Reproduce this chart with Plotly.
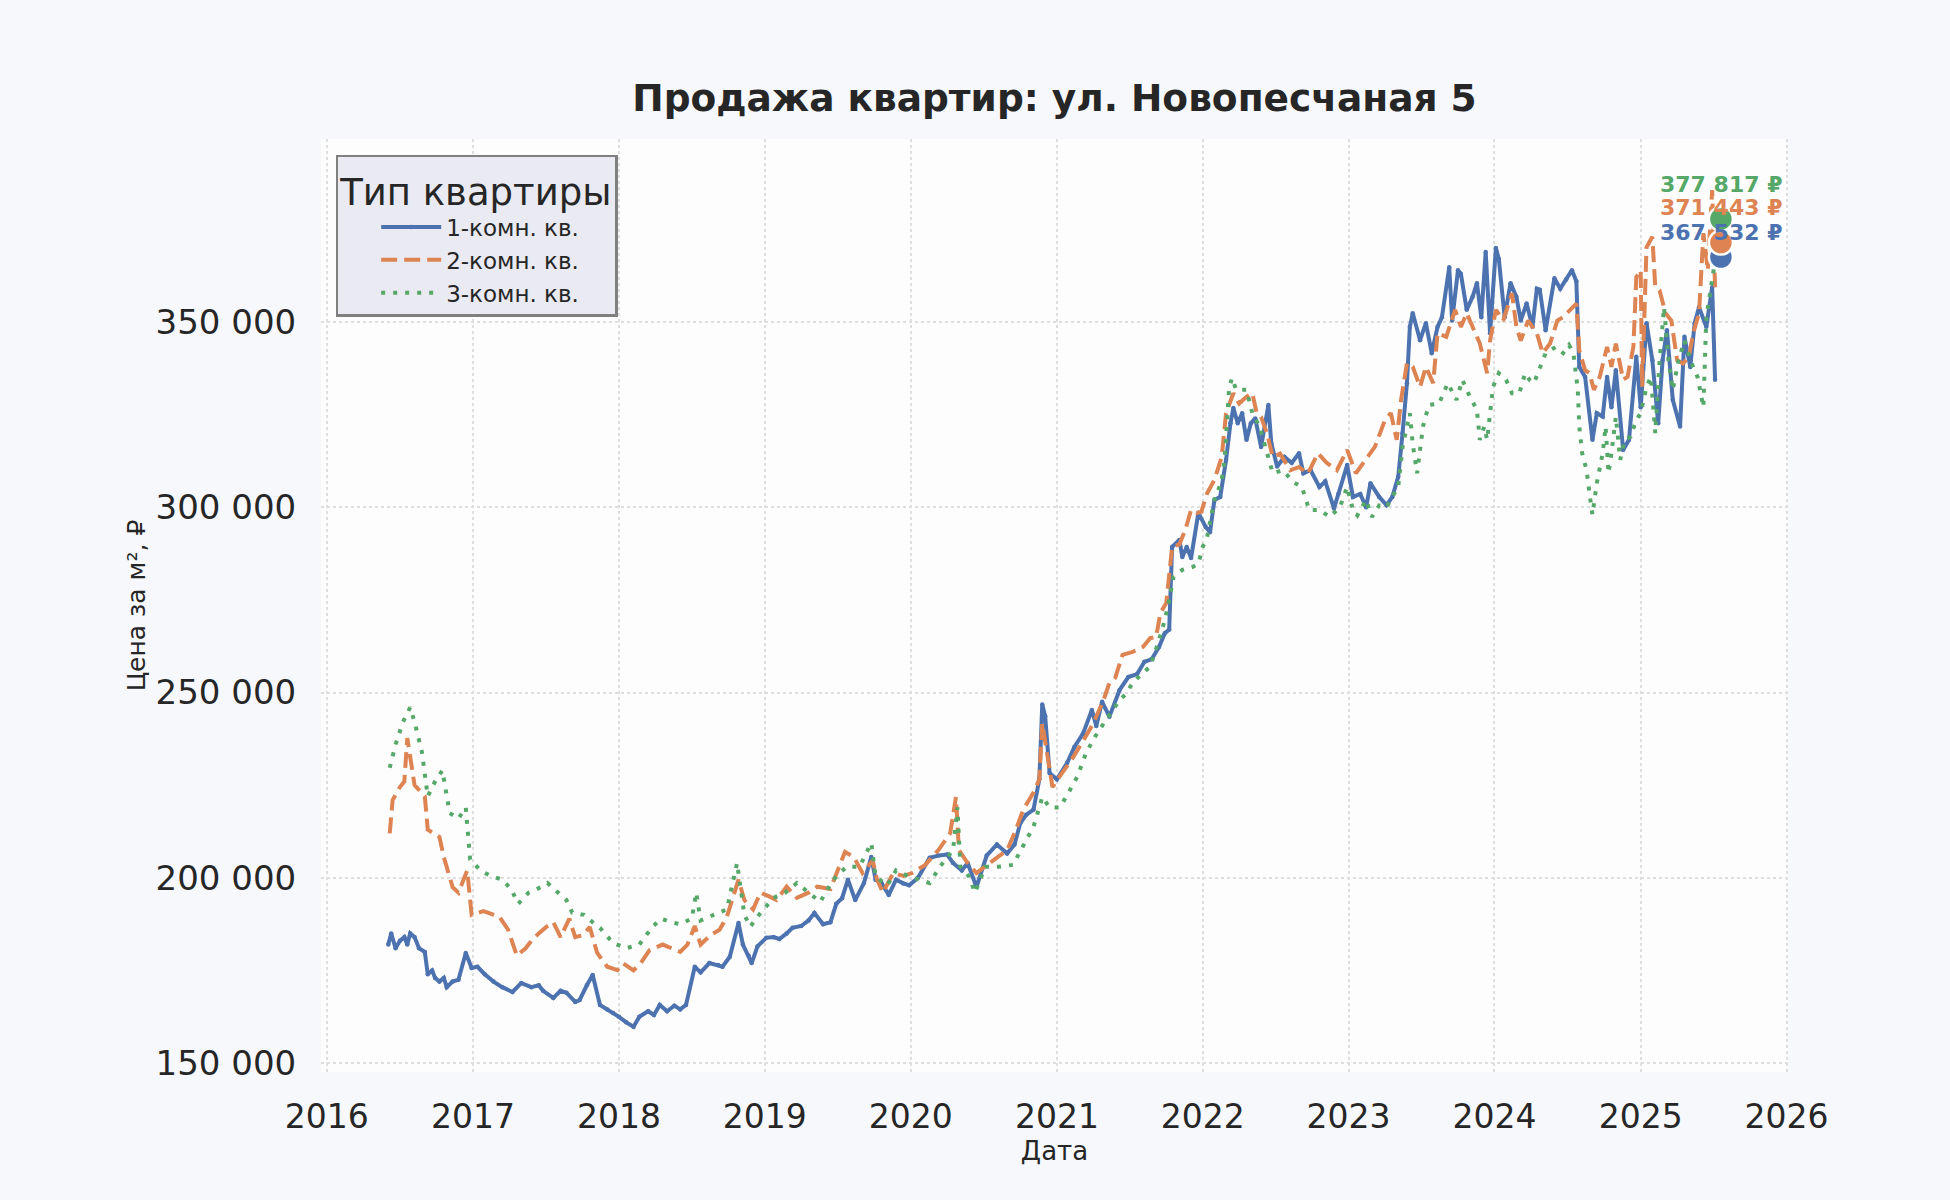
import pandas as pd
import plotly.graph_objects as go

# ---- data (decimal year, price in thousands of RUB per m²) ----
t1 = [2016.42, 2016.44, 2016.47, 2016.50, 2016.53, 2016.55, 2016.57, 2016.60, 2016.63, 2016.67,
      2016.69, 2016.72, 2016.74, 2016.77, 2016.80, 2016.82, 2016.86, 2016.90, 2016.95, 2016.99,
      2017.03, 2017.08, 2017.14, 2017.20, 2017.27, 2017.33, 2017.40, 2017.45, 2017.48, 2017.55,
      2017.60, 2017.64, 2017.70, 2017.73, 2017.78, 2017.82, 2017.87, 2017.92, 2017.96, 2018.00,
      2018.05, 2018.10, 2018.14, 2018.20, 2018.24, 2018.28, 2018.33, 2018.38, 2018.42, 2018.46,
      2018.52, 2018.56, 2018.62, 2018.68, 2018.71, 2018.76, 2018.82, 2018.85, 2018.89, 2018.91,
      2018.95, 2019.01, 2019.06, 2019.10, 2019.15, 2019.19, 2019.25, 2019.30, 2019.34, 2019.40,
      2019.45, 2019.49, 2019.53, 2019.57, 2019.62, 2019.68, 2019.73, 2019.76, 2019.80, 2019.85,
      2019.90, 2019.95, 2019.99, 2020.05, 2020.13, 2020.19, 2020.25, 2020.29, 2020.35, 2020.39,
      2020.45, 2020.52, 2020.59, 2020.66, 2020.71, 2020.75, 2020.79, 2020.84, 2020.88, 2020.90,
      2020.92, 2020.95, 2021.00, 2021.07, 2021.12, 2021.18, 2021.24, 2021.27, 2021.31, 2021.36,
      2021.43, 2021.49, 2021.55, 2021.60, 2021.65, 2021.70, 2021.74, 2021.77, 2021.79, 2021.84,
      2021.86, 2021.89, 2021.92, 2021.97, 2022.02, 2022.05, 2022.08, 2022.12, 2022.16, 2022.19,
      2022.21, 2022.24, 2022.27, 2022.30, 2022.33, 2022.36, 2022.40, 2022.45, 2022.47, 2022.51,
      2022.56, 2022.61, 2022.66, 2022.69, 2022.74, 2022.80, 2022.84, 2022.90, 2022.93, 2022.99,
      2023.03, 2023.08, 2023.12, 2023.15, 2023.21, 2023.26, 2023.30, 2023.34, 2023.37, 2023.40,
      2023.42, 2023.44, 2023.49, 2023.53, 2023.57, 2023.61, 2023.64, 2023.69, 2023.71, 2023.75,
      2023.77, 2023.81, 2023.85, 2023.88, 2023.91, 2023.94, 2023.97, 2024.01, 2024.03, 2024.07,
      2024.11, 2024.15, 2024.18, 2024.22, 2024.26, 2024.29, 2024.31, 2024.35, 2024.41, 2024.45,
      2024.49, 2024.53, 2024.56, 2024.58, 2024.62, 2024.67, 2024.70, 2024.74, 2024.77, 2024.80,
      2024.83, 2024.88, 2024.92, 2024.97, 2025.00, 2025.04, 2025.08, 2025.12, 2025.15, 2025.18,
      2025.22, 2025.27, 2025.30, 2025.34, 2025.37, 2025.40, 2025.45, 2025.49, 2025.51]
v1 = [182, 185, 181, 183, 184, 182, 185, 184, 181, 180,
      174, 175, 173, 172, 173, 170.5, 172, 172.5, 179.7, 175.7,
      176, 174, 172, 170.5, 169.2, 171.6, 170.5, 171, 169.5, 167.6,
      169.5, 169, 166.5, 167, 171, 173.8, 165.7, 164.5, 163.5, 162.5,
      161, 159.8, 162.5, 164, 163, 165.7, 164, 165.5, 164.5, 165.7,
      176, 174.5, 177, 176.5, 176, 178.7, 187.8, 182, 179, 177,
      181.5, 183.8, 184, 183.5, 185, 186.5, 187, 188.5, 190.5, 187.5,
      188, 193, 194.5, 199.5, 194, 198.6, 205.6, 199.5, 198.6, 195.4,
      199.5, 198.5, 198, 200, 205.4, 206, 206.3, 204, 202, 204,
      197.5, 206, 209, 206.6, 209, 214.8, 217, 218.4, 226.6, 246.8,
      243.6, 228.3, 226.6, 231, 235.3, 239, 245.3, 241, 247.5, 243.5,
      250.7, 254.2, 255, 258.3, 259, 262.3, 266, 267, 289.3, 291.2,
      286.6, 289.3, 286.3, 298.5, 294.7, 293.3, 302, 302.8, 312.8, 322.7,
      326.8, 322.7, 325.4, 318.2, 322.7, 324, 316.3, 327.6, 317.3, 311,
      313.6, 312, 314.6, 309.2, 310, 305.5, 307, 299.7, 303.6, 311.4,
      302.8, 303.6, 300, 306.5, 302.8, 300.6, 302.8, 308.2, 320, 333.5,
      348.7, 352.4, 345.1, 349.7, 341.6, 348.7, 351.3, 364.8, 350.4, 364,
      363, 353.3, 356.8, 360.5, 351.3, 368.9, 347, 370, 367, 351.3,
      360.5, 356.8, 350.4, 355, 348.7, 359, 358.7, 347.8, 361.8, 359,
      361.5, 364, 361, 337.9, 335.2, 318.2, 325.4, 324.5, 335.2, 327,
      337, 315.5, 318.2, 340.6, 327, 349.7, 339.7, 322.7, 339.7, 347.8,
      329, 321.8, 346, 337.9, 349.7, 354, 348.7, 359.4, 334.4]

t2 = [2016.43, 2016.45, 2016.50, 2016.53, 2016.55, 2016.57, 2016.60, 2016.67, 2016.69, 2016.77,
      2016.80, 2016.86, 2016.90, 2016.96, 2016.99, 2017.07, 2017.14, 2017.18, 2017.24, 2017.30,
      2017.36, 2017.40, 2017.45, 2017.50, 2017.55, 2017.60, 2017.66, 2017.70, 2017.75, 2017.80,
      2017.85, 2017.92, 2017.99, 2018.03, 2018.10, 2018.15, 2018.21, 2018.30, 2018.36, 2018.42,
      2018.47, 2018.52, 2018.56, 2018.63, 2018.69, 2018.74, 2018.82, 2018.86, 2018.92, 2018.97,
      2019.03, 2019.08, 2019.15, 2019.22, 2019.30, 2019.36, 2019.45, 2019.51, 2019.55, 2019.61,
      2019.67, 2019.74, 2019.77, 2019.81, 2019.88, 2019.95, 2020.01, 2020.10, 2020.19, 2020.27,
      2020.31, 2020.33, 2020.39, 2020.45, 2020.55, 2020.66, 2020.72, 2020.77, 2020.84, 2020.88,
      2020.90, 2020.97, 2021.03, 2021.10, 2021.18, 2021.25, 2021.32, 2021.36, 2021.40, 2021.45,
      2021.52, 2021.59, 2021.64, 2021.68, 2021.71, 2021.75, 2021.79, 2021.84, 2021.88, 2021.92,
      2021.96, 2021.99, 2022.03, 2022.08, 2022.13, 2022.16, 2022.21, 2022.25, 2022.30, 2022.34,
      2022.37, 2022.40, 2022.44, 2022.48, 2022.53, 2022.60, 2022.66, 2022.72, 2022.79, 2022.85,
      2022.92, 2022.99, 2023.05, 2023.12, 2023.18, 2023.25, 2023.29, 2023.33, 2023.36, 2023.40,
      2023.44, 2023.49, 2023.53, 2023.58, 2023.61, 2023.67, 2023.73, 2023.77, 2023.81, 2023.86,
      2023.90, 2023.95, 2023.97, 2024.01, 2024.06, 2024.12, 2024.15, 2024.18, 2024.23, 2024.29,
      2024.33, 2024.38, 2024.43, 2024.47, 2024.53, 2024.56, 2024.58, 2024.62, 2024.65, 2024.68,
      2024.72, 2024.77, 2024.80, 2024.83, 2024.88, 2024.91, 2024.95, 2024.97, 2025.00, 2025.01,
      2025.04, 2025.08, 2025.10, 2025.13, 2025.17, 2025.21, 2025.25, 2025.29, 2025.33, 2025.36,
      2025.40, 2025.43, 2025.46, 2025.49, 2025.51]
v2 = [212, 221, 224.5, 226, 237.7, 232, 225, 222, 213, 211,
      205.6, 197.5, 196, 202, 190, 191, 190, 189.5, 186, 179,
      181, 183, 185, 186.7, 188, 184, 189, 184, 184.5, 186.7,
      179.8, 176, 175.1, 176.9, 175, 177, 180.5, 182, 181, 180,
      182, 187, 182, 184.6, 186, 189.5, 199.5, 194, 191.5, 196,
      195, 194, 197.6, 194.6, 196, 197.6, 197, 203, 207, 205.6,
      201.3, 204.7, 199.5, 196, 201.3, 200.5, 201.3, 203.5, 207.5, 212,
      221.8, 207.5, 204, 201.3, 204.4, 207.5, 213, 218.4, 223, 226.6,
      241.7, 224.5, 228, 231.8, 237, 241.7, 248, 252.6, 254, 260.2,
      261, 262.3, 264.7, 265, 271.5, 274.2, 289.3, 290, 293.9, 299.3,
      298.5, 298.8, 303.8, 307.4, 313.6, 325.4, 330.8, 328, 329.8, 330.8,
      325.4, 324.4, 320, 313.6, 314.5, 310, 310.9, 309, 314.6, 312,
      310, 315.5, 309.2, 312.8, 316.3, 323.6, 325.4, 318.2, 329, 338.9,
      337.9, 332.5, 337.9, 333.5, 347, 346, 353.3, 348.7, 352.4, 347.8,
      344.2, 336.2, 345, 353.3, 350.4, 357.8, 348.7, 345, 350.4, 347,
      341.6, 344.2, 350.4, 351.3, 354, 355, 342.4, 337, 336.2, 331.7,
      335.2, 343.3, 337.9, 344.2, 334.4, 335.2, 343.3, 362.1, 364, 332.5,
      370.2, 373, 359.4, 358.5, 352.4, 350.4, 339.7, 338.8, 340.6, 347,
      352.4, 374, 364, 385.6, 359.4]

t3 = [2016.43, 2016.47, 2016.52, 2016.57, 2016.60, 2016.65, 2016.69, 2016.74, 2016.79, 2016.84,
      2016.90, 2016.95, 2016.98, 2017.05, 2017.12, 2017.20, 2017.26, 2017.31, 2017.38, 2017.44,
      2017.51, 2017.58, 2017.64, 2017.68, 2017.76, 2017.82, 2017.87, 2017.96, 2018.05, 2018.14,
      2018.23, 2018.29, 2018.36, 2018.42, 2018.50, 2018.53, 2018.56, 2018.65, 2018.74, 2018.81,
      2018.86, 2018.90, 2018.97, 2019.06, 2019.14, 2019.22, 2019.30, 2019.38, 2019.47, 2019.56,
      2019.65, 2019.73, 2019.76, 2019.84, 2019.90, 2019.99, 2020.06, 2020.13, 2020.20, 2020.29,
      2020.32, 2020.34, 2020.40, 2020.44, 2020.51, 2020.60, 2020.70, 2020.77, 2020.84, 2020.88,
      2020.90, 2020.95, 2021.02, 2021.08, 2021.14, 2021.20, 2021.26, 2021.31, 2021.36, 2021.43,
      2021.47, 2021.52, 2021.58, 2021.64, 2021.70, 2021.74, 2021.77, 2021.80, 2021.86, 2021.93,
      2021.97, 2022.00, 2022.03, 2022.06, 2022.08, 2022.10, 2022.13, 2022.15, 2022.17, 2022.18,
      2022.20, 2022.23, 2022.30, 2022.34, 2022.39, 2022.42, 2022.45, 2022.48, 2022.55, 2022.62,
      2022.68, 2022.73, 2022.80, 2022.87, 2022.94, 2022.99, 2023.03, 2023.06, 2023.12, 2023.16,
      2023.21, 2023.26, 2023.30, 2023.34, 2023.37, 2023.42, 2023.44, 2023.47, 2023.51, 2023.55,
      2023.62, 2023.68, 2023.74, 2023.78, 2023.83, 2023.88, 2023.90, 2023.93, 2023.95, 2023.99,
      2024.03, 2024.08, 2024.12, 2024.17, 2024.21, 2024.24, 2024.27, 2024.32, 2024.35, 2024.42,
      2024.47, 2024.51, 2024.54, 2024.57, 2024.58, 2024.60, 2024.63, 2024.65, 2024.67, 2024.70,
      2024.74, 2024.76, 2024.78, 2024.80, 2024.83, 2024.86, 2024.89, 2024.93, 2024.97, 2025.00,
      2025.04, 2025.07, 2025.10, 2025.13, 2025.16, 2025.19, 2025.22, 2025.26, 2025.30, 2025.35,
      2025.39, 2025.43, 2025.45, 2025.50, 2025.52]
v3 = [229.7, 236, 242, 246, 242, 234, 222, 226, 229, 217.5,
      216, 219, 205, 202, 200.5, 199.5, 197, 193, 196, 197,
      198.6, 196, 194, 190.6, 190, 188, 186.5, 182.4, 181, 182,
      186.8, 189, 188, 187.5, 189, 196, 188.5, 190, 191.5, 204,
      190, 186.8, 190.5, 194.6, 196, 198.6, 196, 193.5, 199.5, 203,
      203, 209.4, 200.3, 198, 202, 200.3, 199.5, 198.6, 203, 207.5,
      219, 203, 200.3, 196, 203, 203, 203.5, 208.6, 213.8, 219,
      221.8, 219, 219, 223, 227.3, 233.7, 238, 241, 244, 248,
      249.5, 252.6, 255, 257, 264.2, 269.6, 275, 281.2, 283.1, 283.9,
      284.8, 289.3, 292, 297.4, 302, 303.8, 307.4, 312.8, 323.6, 331.7,
      334.9, 331.7, 331.7, 325.4, 321.8, 317.3, 313.6, 309.2, 310, 306.8,
      305.5, 299.3, 299.3, 297.4, 300, 305.5, 299.3, 297.8, 302, 297.4,
      300.5, 300, 302.8, 305.5, 316.3, 325.4, 317, 309.2, 321.8, 327.6,
      328, 333.5, 329, 334.4, 330, 326.3, 318.2, 321.8, 318.2, 332.5,
      336.2, 334.4, 330.8, 330.8, 336.2, 334.4, 333.5, 338.9, 341.6, 343.3,
      341.6, 343.8, 341.6, 331.7, 321.8, 314.6, 310, 303.8, 298, 306.5,
      314.6, 321.8, 309.2, 314.6, 324.4, 312.8, 318.2, 319, 323.6, 325.4,
      332.5, 335.2, 320, 339.7, 354, 339.7, 331.7, 339.7, 345, 338.8,
      335.2, 327, 351.3, 364, 372]

series_names = ["1-комн. кв.", "2-комн. кв.", "3-комн. кв."]
colors = ["#4c72b0", "#dd8452", "#55a868"]
last_date = 2025.55
last_values = [367532, 371443, 377817]
last_labels = ["367 532 ₽", "371 443 ₽", "377 817 ₽"]
label_shift = [25, 35, 34]
year_ticks = list(range(2016, 2027))


def to_date(y):
    yr = int(y)
    start = pd.Timestamp(year=yr, month=1, day=1)
    end = pd.Timestamp(year=yr + 1, month=1, day=1)
    return start + (end - start) * (y - yr)


FONT = "DejaVu Sans"
TXT = "#262626"
PAPER = "#f7f8fc"

fig = go.Figure()
dashes = ["solid", "16px,7px", "4px,8px"]
for name, t, v, c, d in zip(series_names, [t1, t2, t3], [v1, v2, v3], colors, dashes):
    fig.add_trace(go.Scatter(
        x=[to_date(a) for a in t], y=[b * 1000 for b in v], name=name,
        mode="lines+markers" if d == "solid" else "lines",
        line=dict(color=c, width=4, dash=d),
        marker=dict(size=4.5, color=c),
    ))

for val, c in zip(last_values, colors):
    fig.add_trace(go.Scatter(
        x=[to_date(last_date)], y=[val], mode="markers", showlegend=False,
        marker=dict(size=24, color=c, line=dict(color="white", width=2.5)),
    ))

for val, lab, c, s in zip(last_values, last_labels, colors, label_shift):
    fig.add_annotation(x=to_date(last_date), y=val, text="<b>" + lab + "</b>",
                       showarrow=False, yshift=s,
                       font=dict(family=FONT, size=22, color=c))

fig.update_layout(
    width=1950, height=1200,
    paper_bgcolor=PAPER, plot_bgcolor="#fdfdfe",
    margin=dict(l=321, r=162, t=139, b=128),
    separators=". ",
    font=dict(family=FONT, color=TXT),
    title=dict(text="<b>Продажа квартир: ул. Новопесчаная 5</b>",
               x=0.5, xref="paper", xanchor="center",
               y=1 - 98 / 1200, yref="container", yanchor="middle",
               font=dict(family=FONT, size=37.5, color=TXT)),
    legend=dict(x=0.010, y=0.983, xanchor="left", yanchor="top",
                bgcolor="#eaeaf2", bordercolor="#808080", borderwidth=2.5,
                font=dict(family=FONT, size=23, color=TXT),
                title=dict(text="Тип квартиры", font=dict(family=FONT, size=37, color=TXT)),
                indentation=38, itemwidth=60),
    showlegend=True,
)

fig.update_xaxes(
    range=[to_date(2015.96), to_date(2026.01)],
    tickvals=[pd.Timestamp(year=y, month=1, day=1) for y in year_ticks],
    ticktext=[str(y) for y in year_ticks],
    tickfont=dict(family=FONT, size=33, color=TXT),
    ticks="outside", ticklen=15, tickcolor="rgba(0,0,0,0)",
    showgrid=True, gridcolor="#dedede", gridwidth=1.6, griddash="dot",
    zeroline=False, showline=False,
    title=dict(text="Дата", font=dict(family=FONT, size=26, color=TXT), standoff=2),
)
fig.update_yaxes(
    range=[147600, 399400],
    tickvals=[150000, 200000, 250000, 300000, 350000],
    tickformat=",.0f",
    tickfont=dict(family=FONT, size=34, color=TXT),
    ticks="outside", ticklen=17, tickcolor="rgba(0,0,0,0)",
    showgrid=True, gridcolor="#dedede", gridwidth=1.6, griddash="dot",
    zeroline=False, showline=False,
    title=dict(text="Цена за м², ₽", font=dict(family=FONT, size=25, color=TXT), standoff=2),
)

fig.write_html(
    "out.html",
    config={"displayModeBar": False},
    post_script="document.body.style.margin='0';document.body.style.background='" + PAPER + "';",
)
